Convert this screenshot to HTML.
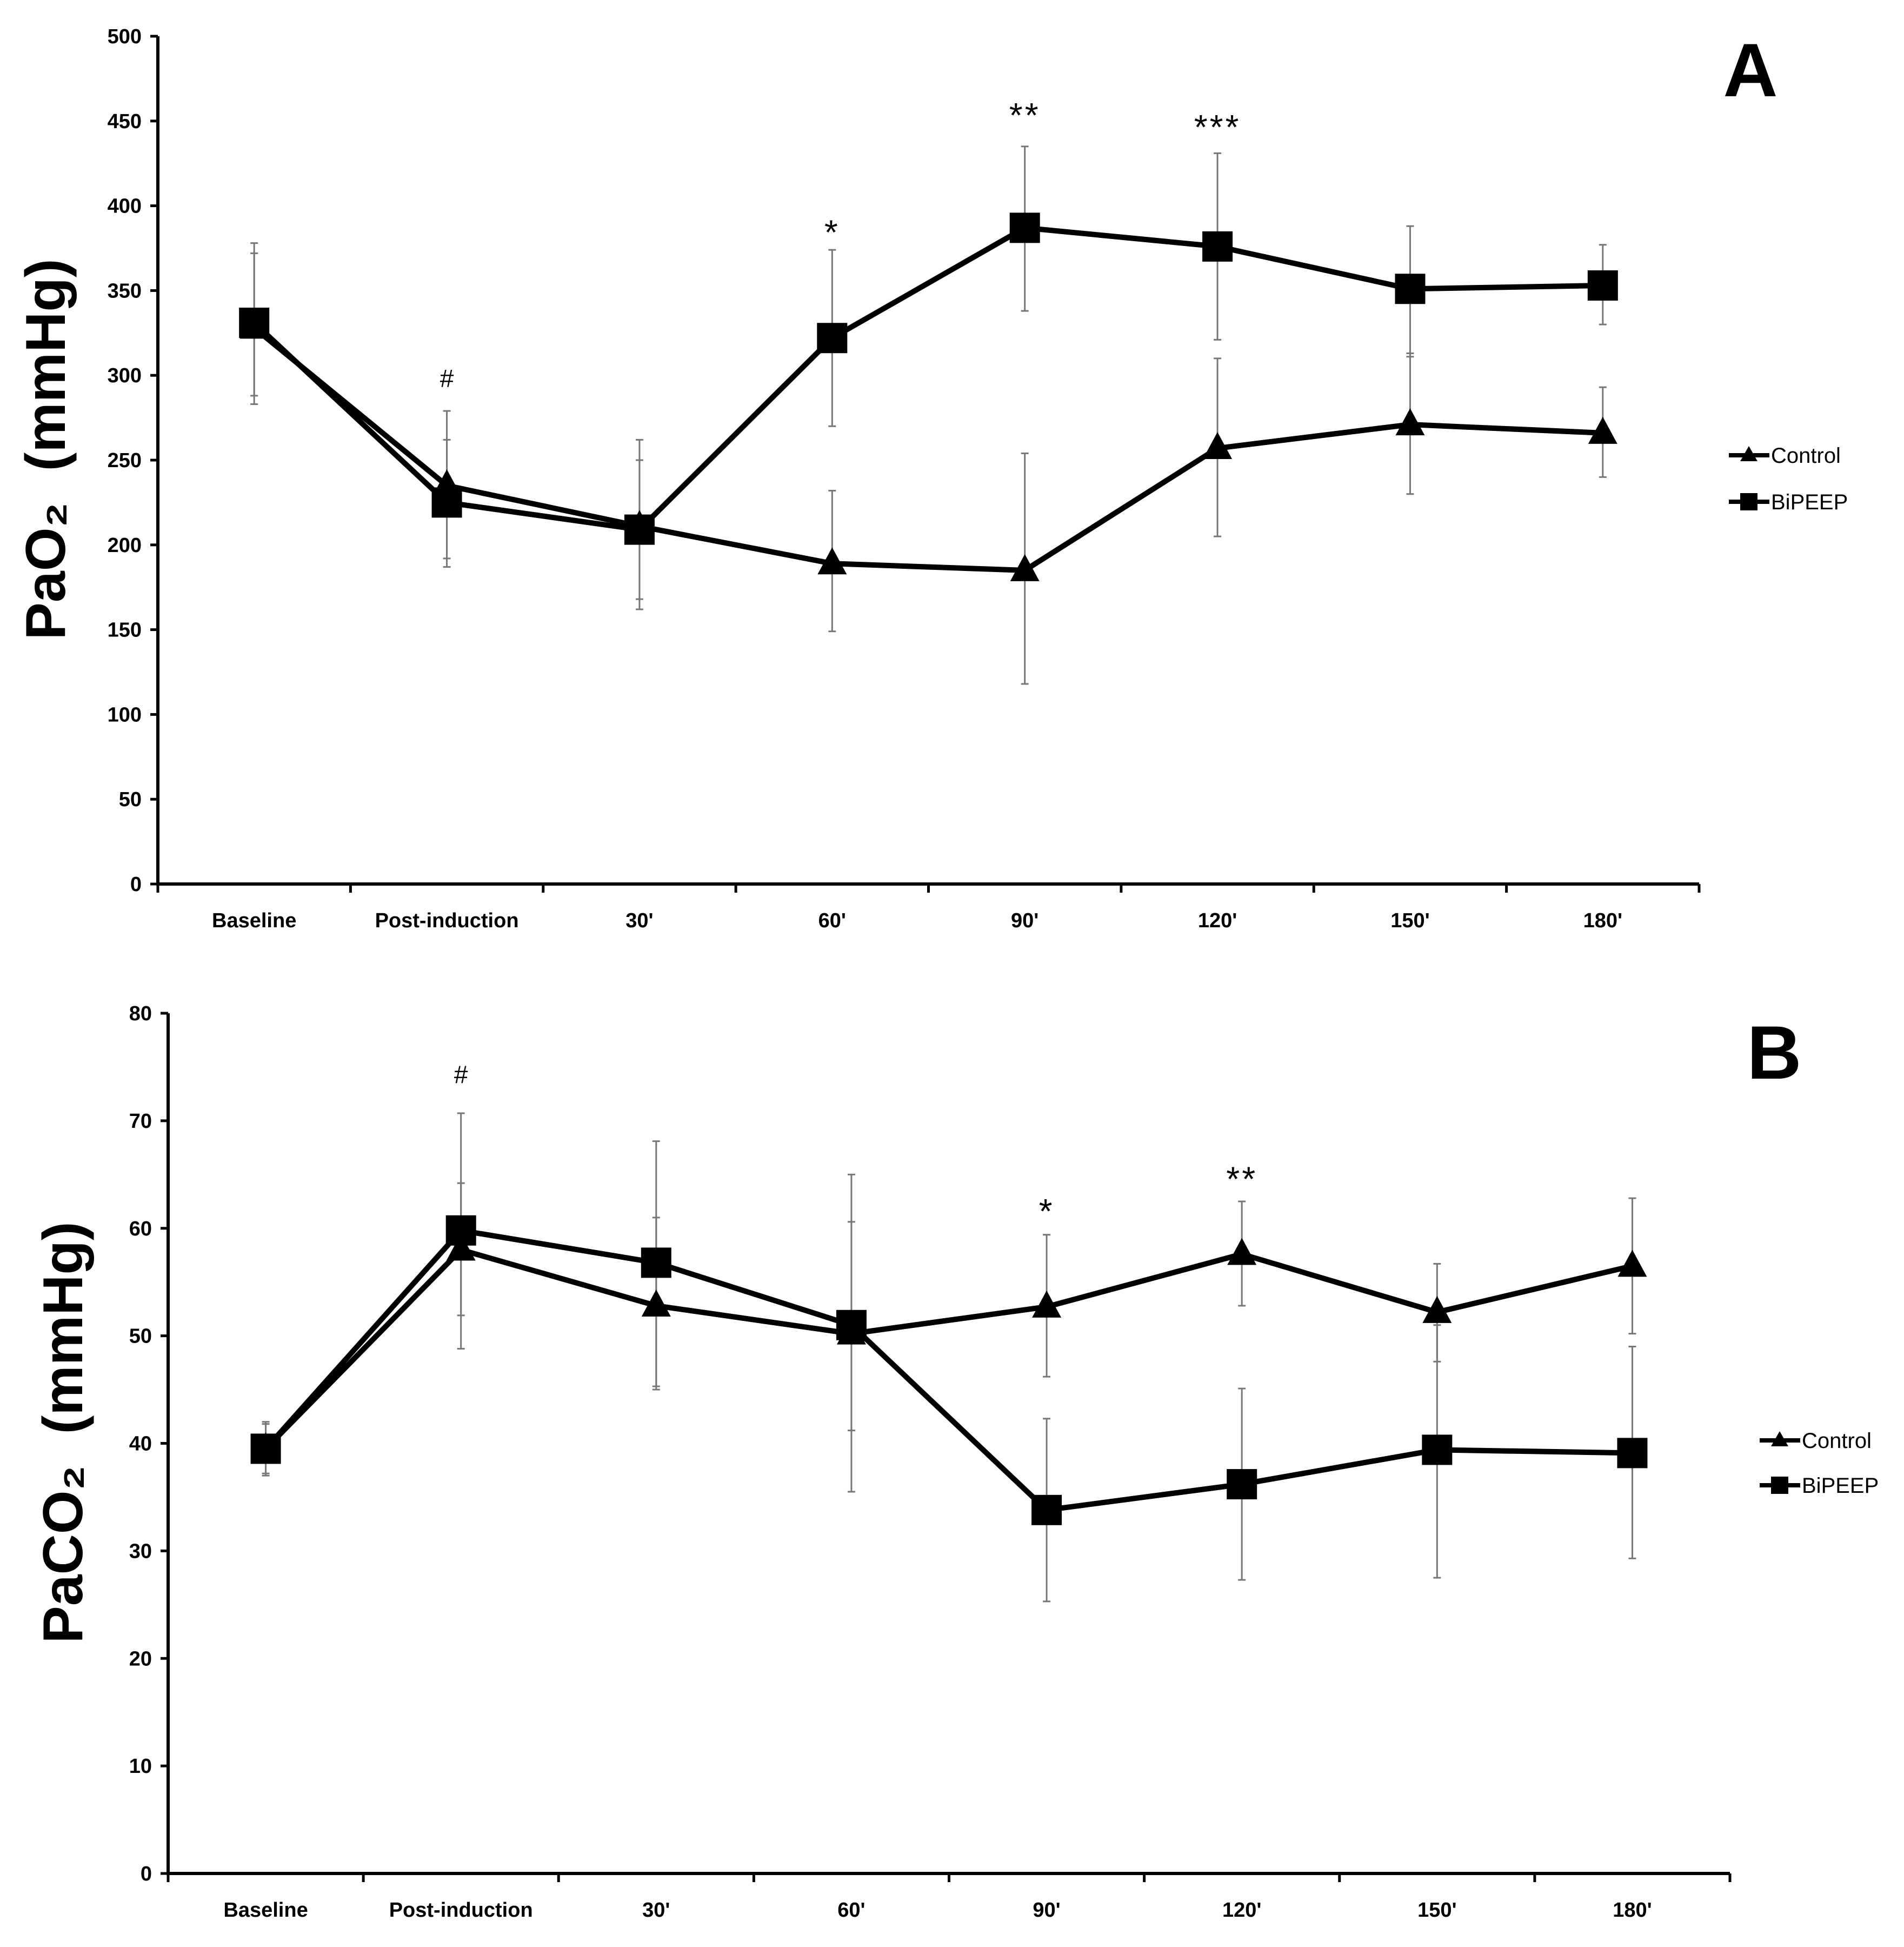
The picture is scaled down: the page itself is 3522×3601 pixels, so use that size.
<!DOCTYPE html>
<html><head><meta charset="utf-8"><style>
html,body{margin:0;padding:0;background:#fff;}
svg{display:block;font-family:"Liberation Sans",sans-serif;}
</style></head><body>
<svg id="chart" width="3522" height="3601" viewBox="0 0 3522 3601" xmlns="http://www.w3.org/2000/svg"></svg>
<script>
const categories = ["Baseline","Post-induction","30'","60'","90'","120'","150'","180'"];
// Panel A (PaO2)
const aTicks = [0,50,100,150,200,250,300,350,400,450,500];
const aControl = [328,235,211,189,185,257,271,266];
const aControlLo = [288,187,162,149,118,205,230,240];
const aControlHi = [372,279,262,232,254,310,313,293];
const aBi = [331,225,209,322,387,376,351,353];
const aBiLo = [283,192,168,270,338,321,311,330];
const aBiHi = [378,262,250,374,435,431,388,377];
const aMarks = ["","#","","*","**","***","",""];
const aMarkVal = [0,293,0,387,456,449,0,0];
// Panel B (PaCO2)
const bTicks = [0,10,20,30,40,50,60,70,80];
const bControl = [39.5,58,52.8,50.2,52.7,57.6,52.2,56.5];
const bControlLo = [37.0,51.9,45.3,35.5,46.2,52.8,47.6,50.2];
const bControlHi = [42.0,64.2,61.0,65.0,59.4,62.5,56.7,62.8];
const bBi = [39.5,59.8,56.8,51.0,33.8,36.2,39.4,39.1];
const bBiLo = [37.2,48.8,45.0,41.2,25.3,27.3,27.5,29.3];
const bBiHi = [41.8,70.7,68.1,60.6,42.3,45.1,51.0,49.0];
const bMarks = ["","#","","","*","**","",""];
const bMarkVal = [0,73.5,0,0,62.0,65.0,0,0];

const NS="http://www.w3.org/2000/svg";
const svg=document.getElementById('chart');
function mk(tag,attrs,parent){const e=document.createElementNS(NS,tag);for(const k in attrs)e.setAttribute(k,attrs[k]);(parent||svg).appendChild(e);return e;}

function panel(cfg){
  const g=mk('g',{});
  
  
  const x0=cfg.x0,x1=cfg.x1,yTop=cfg.yTop,yBot=cfg.yBot,max=cfg.max;
  const band=(x1-x0)/categories.length;
  const xs=i=>x0+band*(i+0.5);
  const ys=v=>yBot-(v/max)*(yBot-yTop);
  // axes
  const ya=mk('line',{x1:x0,y1:yTop,x2:x0,y2:yBot+3,stroke:'#000','stroke-width':6},g);
  
  const xa=mk('line',{x1:x0-3,y1:yBot,x2:x1,y2:yBot,stroke:'#000','stroke-width':6},g);
  
  cfg.ticks.forEach(t=>{
    mk('line',{x1:x0-14,y1:ys(t),x2:x0,y2:ys(t),stroke:'#000','stroke-width':5},g);
    const tx=mk('text',{x:x0-30,y:ys(t)+13,'text-anchor':'end','font-size':38,'font-weight':'bold'},g);
    tx.textContent=t;
    
  });
  for(let i=0;i<=categories.length;i++){
    mk('line',{x1:x0+band*i,y1:yBot,x2:x0+band*i,y2:yBot+16,stroke:'#000','stroke-width':5},g);
  }
  categories.forEach((c,i)=>{
    const tx=mk('text',{x:xs(i),y:yBot+80,'text-anchor':'middle','font-size':38,'font-weight':'bold'},g);
    tx.textContent=c;
    
  });
  // error bars
  function errs(lo,hi,nm){
    lo.forEach((l,i)=>{
      const e=mk('g',{stroke:'#777','stroke-width':3},g);
      
      mk('line',{x1:xs(i),y1:ys(l),x2:xs(i),y2:ys(hi[i])},e);
      mk('line',{x1:xs(i)-7,y1:ys(l),x2:xs(i)+7,y2:ys(l)},e);
      mk('line',{x1:xs(i)-7,y1:ys(hi[i]),x2:xs(i)+7,y2:ys(hi[i])},e);
    });
  }
  errs(cfg.cLo,cfg.cHi,'control-error-bar');
  errs(cfg.bLo,cfg.bHi,'bipeep-error-bar');
  // lines
  const pts=a=>a.map((v,i)=>xs(i)+','+ys(v)).join(' ');
  const lc=mk('polyline',{points:pts(cfg.c),fill:'none',stroke:'#000','stroke-width':10,'stroke-linejoin':'round'},g);
  
  const lb=mk('polyline',{points:pts(cfg.b),fill:'none',stroke:'#000','stroke-width':10,'stroke-linejoin':'round'},g);
  
  cfg.c.forEach((v,i)=>{
    const x=xs(i),y=ys(v);
    const t=mk('polygon',{points:`${x},${y-30} ${x-27},${y+20} ${x+27},${y+20}`,fill:'#000'},g);
    
  });
  cfg.b.forEach((v,i)=>{
    const x=xs(i),y=ys(v);
    const r=mk('rect',{x:x-28,y:y-28,width:56,height:56,fill:'#000'},g);
    
  });
  cfg.marks.forEach((m,i)=>{
    if(!m)return;
    const isHash=m==='#';
    const tx=mk('text',{x:xs(i),y:ys(cfg.markVal[i])+(isHash?0:30),'text-anchor':'middle','font-size':isHash?46:64,'letter-spacing':isHash?0:4},g);
    tx.textContent=m;
    
  });
  // y title
  const yt=mk('text',{transform:`translate(${cfg.titleX},${(yTop+yBot)/2-20}) rotate(-90)`,'text-anchor':'middle','font-size':104,'font-weight':'bold'},g);
  
  yt.textContent=cfg.title+'\u00a0\u00a0(mmHg)';
  // panel letter
  const pl=mk('text',{x:cfg.letterX,y:cfg.letterY,'text-anchor':'middle','font-size':140,'font-weight':'bold'},g);
  pl.textContent=cfg.letter;
  // legend
  const lg=mk('g',{},g);
  const L=cfg.legX,L1=cfg.legY1,L2=cfg.legY2;
  const e1=mk('g',{},lg);
  mk('line',{x1:L,y1:L1,x2:L+75,y2:L1,stroke:'#000','stroke-width':8},e1);
  mk('polygon',{points:`${L+37},${L1-17} ${L+21},${L1+11} ${L+53},${L1+11}`,fill:'#000'},e1);
  const t1=mk('text',{x:L+78,y:L1+14,'font-size':40},e1);t1.textContent='Control';
  const e2=mk('g',{},lg);
  mk('line',{x1:L,y1:L2,x2:L+75,y2:L2,stroke:'#000','stroke-width':8},e2);
  mk('rect',{x:L+21,y:L2-16,width:32,height:32,fill:'#000'},e2);
  const t2=mk('text',{x:L+78,y:L2+14,'font-size':40},e2);t2.textContent='BiPEEP';
}
panel({name:'panel-a-pao2',x0:292,x1:3143,yTop:67,yBot:1635,max:500,ticks:aTicks,
  c:aControl,cLo:aControlLo,cHi:aControlHi,b:aBi,bLo:aBiLo,bHi:aBiHi,marks:aMarks,markVal:aMarkVal,
  title:'PaO₂',titleX:120,letter:'A',letterX:3238,letterY:178,legX:3198,legY1:842,legY2:928});
panel({name:'panel-b-paco2',x0:311,x1:3200,yTop:1874,yBot:3465,max:80,ticks:bTicks,
  c:bControl,cLo:bControlLo,cHi:bControlHi,b:bBi,bLo:bBiLo,bHi:bBiHi,marks:bMarks,markVal:bMarkVal,
  title:'PaCO₂',titleX:152,letter:'B',letterX:3282,letterY:1995,legX:3255,legY1:2664,legY2:2747});
</script>
</body></html>
